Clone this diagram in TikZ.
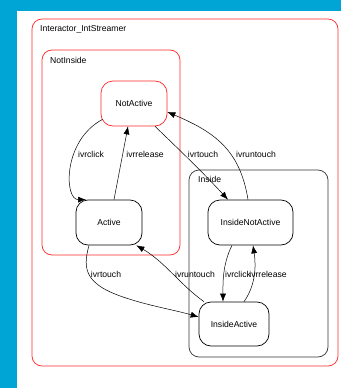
\documentclass[tikz,border=0pt]{standalone}
\usepackage{fontspec}
\setmainfont{Liberation Sans}
\usetikzlibrary{arrows.meta}
\definecolor{frameblue}{RGB}{0,165,214}
\definecolor{clusterred}{RGB}{255,40,40}
\begin{document}
\begin{tikzpicture}[x=1pt,y=-1pt,
  lbl/.style={font=\fontsize{8.6}{10}\selectfont, inner sep=0pt},
  cluster/.style={draw, line width=0.7pt, rounded corners=10pt},
  state/.style={draw, line width=0.7pt, rounded corners=12pt, minimum height=45pt,
    font=\fontsize{8.6}{10}\selectfont, inner sep=0pt},
  trans/.style={draw, line width=0.5pt, -{Latex[length=8pt,width=6pt]}}]
\useasboundingbox (0,0) rectangle (341,388);
% page frame
\fill[white] (0,0) rectangle (341,388);
\fill[frameblue] (0,0) rectangle (341,11);
\fill[frameblue] (0,0) rectangle (17,388);
% clusters
\draw[cluster, clusterred] (32,19) rectangle (338,366);
\node[lbl, anchor=west] (tOuter) at (40,29) {Interactor\_IntStreamer};
\draw[cluster, clusterred] (42,50) rectangle (180,255);
\node[lbl, anchor=west] (tNotInside) at (50,60) {NotInside};
\draw[cluster, black!80] (189,170) rectangle (328,357);
\node[lbl, anchor=west] (tInside) at (198,179) {Inside};
% states
\node[state, draw=clusterred, minimum width=66pt] (NA) at (134,103.5) {NotActive};
\node[state, minimum width=66pt] (A) at (109,222.5) {Active};
\node[state, minimum width=85pt] (INA) at (250.5,222.5) {InsideNotActive};
\node[state, minimum width=70pt, minimum height=44pt] (IA) at (234,324) {InsideActive};
% transitions
\draw[trans] ([xshift=2pt,yshift=7pt]NA.south west)
  .. controls +(-40,21) and +(-22,0) .. ([xshift=-23pt]A.north);
\draw[trans] ([xshift=5pt]A.north) -- ([xshift=-6pt]NA.south);
\draw[trans] ([xshift=21pt]NA.south)
  .. controls +(25,24) and +(-23,-25) .. ([xshift=-22.5pt]INA.north);
\draw[trans] ([xshift=-2.5pt]INA.north)
  .. controls +(-8,-50) and +(47,20) .. ([yshift=-8.5pt]NA.east);
\draw[trans] ([xshift=-20pt]A.south)
  .. controls +(-7,25) and +(-40,-13) .. (126,298) coordinate (bend)
  .. controls +(24,8) and +(-24,-7) .. ([yshift=7pt]IA.west);
\draw[trans] ([xshift=-30pt]IA.north)
  .. controls +(-24,-17) and +(29,17) .. ([xshift=-6pt]A.south east);
\draw[trans] ([xshift=-18.5pt]INA.south)
  .. controls +(-10,20) and +(0,-17) .. ([xshift=-11pt]IA.north);
\draw[trans] ([xshift=10pt]IA.north)
  .. controls +(12,-17) and +(3,20) .. ([xshift=2.5pt]INA.south);
% transition labels
\node[lbl] (l1) at (91,154) {ivrclick};
\node[lbl] (l2) at (145,154) {ivrrelease};
\node[lbl] (l3) at (203,154) {ivrtouch};
\node[lbl] (l4) at (256,154) {ivruntouch};
\node[lbl] (l5) at (106,274) {ivrtouch};
\node[lbl] (l6) at (195,274) {ivruntouch};
\node[lbl] (l7) at (238,274) {ivrclick};
\node[lbl] (l8) at (268,274) {ivrrelease};
\end{tikzpicture}
\end{document}
